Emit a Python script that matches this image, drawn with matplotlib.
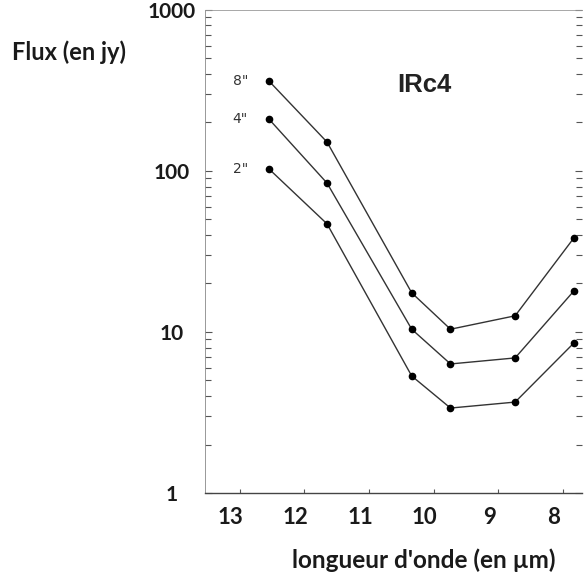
import matplotlib
matplotlib.use("Agg")
import matplotlib.pyplot as plt
import matplotlib.transforms as mtransforms
from matplotlib.ticker import LogLocator, NullFormatter, FixedLocator

wavelength = [12.55, 11.65, 10.34, 9.74, 8.74, 7.83]
flux_8 = [362, 151, 17.5, 10.4, 12.6, 38.4]
flux_4 = [210, 84, 10.4, 6.33, 6.9, 18.0]
flux_2 = [103, 46.9, 5.33, 3.37, 3.67, 8.55]
series = [("8\"", flux_8), ("4\"", flux_4), ("2\"", flux_2)]
xticks = [13, 12, 11, 10, 9, 8]
yticks = [1, 10, 100, 1000]

fig = plt.figure(figsize=(5.87, 5.78), dpi=100)
ax = fig.add_axes([0.349, 0.147, 0.642, 0.836])
ax.set_yscale("log")
ax.set_ylim(1, 1000)
ax.set_xlim(13.54, 7.71)

for lab, vals in series:
    ax.plot(wavelength, vals, color="#333333", lw=1.0, marker="o", ms=4.5,
            mfc="black", mec="black")
    ax.annotate(lab, (wavelength[0], vals[0]), xytext=(-26, 0),
                textcoords="offset points", fontsize=10, color="#333333",
                family="DejaVu Sans", va="center")

ax.text(10.57, 340, "IRc4", fontsize=18.5, fontweight="bold",
        family="Liberation Sans", color="#222222", va="center")

ax.xaxis.set_major_locator(FixedLocator(xticks))
ax.set_xticklabels([str(t) for t in xticks])
ax.yaxis.set_major_locator(FixedLocator(yticks))
ax.set_yticklabels([str(t) for t in yticks])
ax.yaxis.set_minor_locator(LogLocator(base=10, subs=range(2, 10)))
ax.yaxis.set_minor_formatter(NullFormatter())

ax.tick_params(axis="x", direction="in", length=3, width=0.8, pad=10, color="#555555")
ax.tick_params(axis="y", which="both", direction="in", right=True, width=0.8,
               pad=24, color="#555555")
ax.tick_params(axis="y", which="major", length=5)
ax.tick_params(axis="y", which="minor", length=4)

xshift = mtransforms.ScaledTranslation(-9 / 100, 0, fig.dpi_scale_trans)
for lbl in ax.get_xticklabels():
    lbl.set_fontweight("bold")
    lbl.set_family("Lato")
    lbl.set_fontsize(16)
    lbl.set_color("#1a1a1a")
    lbl.set_transform(lbl.get_transform() + xshift)
for lbl in ax.get_yticklabels():
    lbl.set_fontweight("bold")
    lbl.set_family("Lato")
    lbl.set_fontsize(15)
    lbl.set_color("#1a1a1a")
    lbl.set_horizontalalignment("center")

ax.spines["right"].set_visible(False)
ax.spines["top"].set_color("#999999")
ax.spines["top"].set_linewidth(0.6)
ax.spines["left"].set_color("#888888")
ax.spines["left"].set_linewidth(0.6)
ax.spines["bottom"].set_color("#444444")
ax.spines["bottom"].set_linewidth(1.0)

fig.text(0.02, 0.91, "Flux (en jy)", fontsize=17, fontweight="bold",
         family="Lato", color="#1a1a1a", va="center")
fig.text(0.722, 0.03, "longueur d'onde (en µm)", fontsize=17.5, fontweight="bold",
         family="Lato", color="#1a1a1a", ha="center", va="center")

fig.savefig("out.png", dpi=100)
